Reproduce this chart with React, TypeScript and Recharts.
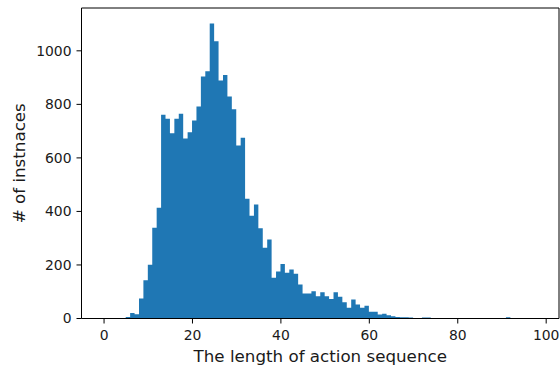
import React from "react";
import { ComposedChart, Area, XAxis, YAxis, Label, ReferenceLine } from "recharts";

const X_TICKS = [0, 20, 40, 60, 80, 100];
const Y_TICKS = [0, 200, 400, 600, 800, 1000];
const X_DOMAIN = [-5.1, 102.9];
const Y_DOMAIN = [0, 1160];
const FIRST_BIN_EDGE = -0.1;
const BIN_WIDTH = 1;
// histogram counts, one per bin
const COUNTS = [
  0, 0, 0, 0, 0, 6, 21, 16, 75, 143,
  201, 339, 414, 761, 746, 692, 746, 765, 672, 696,
  740, 792, 904, 924, 1102, 1036, 889, 910, 829, 782,
  646, 675, 447, 384, 426, 337, 264, 295, 152, 176,
  204, 171, 183, 167, 127, 93, 93, 102, 83, 98,
  83, 73, 98, 81, 61, 40, 71, 52, 40, 48,
  25, 25, 15, 18, 12, 8, 6, 5, 5, 4,
  1, 0, 4, 4, 0, 0, 0, 0, 0, 0,
  0, 0, 0, 0, 0, 0, 0, 0, 0, 0,
  0, 5, 0, 0, 0, 0, 0, 0,
];
const X_LABEL = "The length of action sequence";
const Y_LABEL = "# of instnaces";

const data = [
  ...COUNTS.map((c, i) => ({ x: FIRST_BIN_EDGE + i * BIN_WIDTH, y: c })),
  { x: FIRST_BIN_EDGE + COUNTS.length * BIN_WIDTH, y: 0 },
];

const FONT = "DejaVu Sans";
const TEXT = "#1a1a1a";
const tickStyle = { fill: TEXT, fontSize: 13.9, fontFamily: FONT };

const YLabel = (props: any) => {
  const vb = props.viewBox;
  const cx = 25;
  const cy = vb.y + vb.height / 2;
  return (
    <text
      x={cx}
      y={cy}
      transform={`rotate(-90, ${cx}, ${cy})`}
      textAnchor="middle"
      fontSize={16.7}
      fontFamily={FONT}
      fill={TEXT}
    >
      {Y_LABEL}
    </text>
  );
};

export default function App() {
  return (
    <div>
      <style>{`body{margin:0;background:#fff}`}</style>
      <ComposedChart
        width={560}
        height={369}
        data={data}
        margin={{ top: 8, right: 1, left: 0, bottom: 0 }}
      >
        <XAxis
          xAxisId="x"
          dataKey="x"
          type="number"
          domain={X_DOMAIN}
          ticks={X_TICKS}
          allowDataOverflow
          height={50.5}
          tick={tickStyle}
          tickSize={5}
          tickMargin={7}
          tickLine={{ stroke: "#000", strokeWidth: 1 }}
          axisLine={{ stroke: "#000", strokeWidth: 1 }}
        >
          <Label
            value={X_LABEL}
            position="insideBottom"
            offset={7}
            style={{ fontSize: 16.7, fontFamily: FONT, fill: TEXT }}
          />
        </XAxis>
        <YAxis
          yAxisId="y"
          type="number"
          domain={Y_DOMAIN}
          ticks={Y_TICKS}
          allowDataOverflow
          width={81.5}
          tick={tickStyle}
          tickSize={5}
          tickMargin={5}
          tickLine={{ stroke: "#000", strokeWidth: 1 }}
          axisLine={{ stroke: "#000", strokeWidth: 1 }}
        >
          <Label content={YLabel} />
        </YAxis>
        <Area
          xAxisId="x"
          yAxisId="y"
          dataKey="y"
          type="stepAfter"
          fill="#1f77b4"
          fillOpacity={1}
          stroke="none"
          isAnimationActive={false}
        />
        <ReferenceLine
          xAxisId="x"
          yAxisId="y"
          x={X_DOMAIN[1]}
          stroke="#000"
          strokeWidth={1}
        />
        <ReferenceLine
          xAxisId="x"
          yAxisId="y"
          y={Y_DOMAIN[1]}
          stroke="#000"
          strokeWidth={1}
        />
      </ComposedChart>
    </div>
  );
}
